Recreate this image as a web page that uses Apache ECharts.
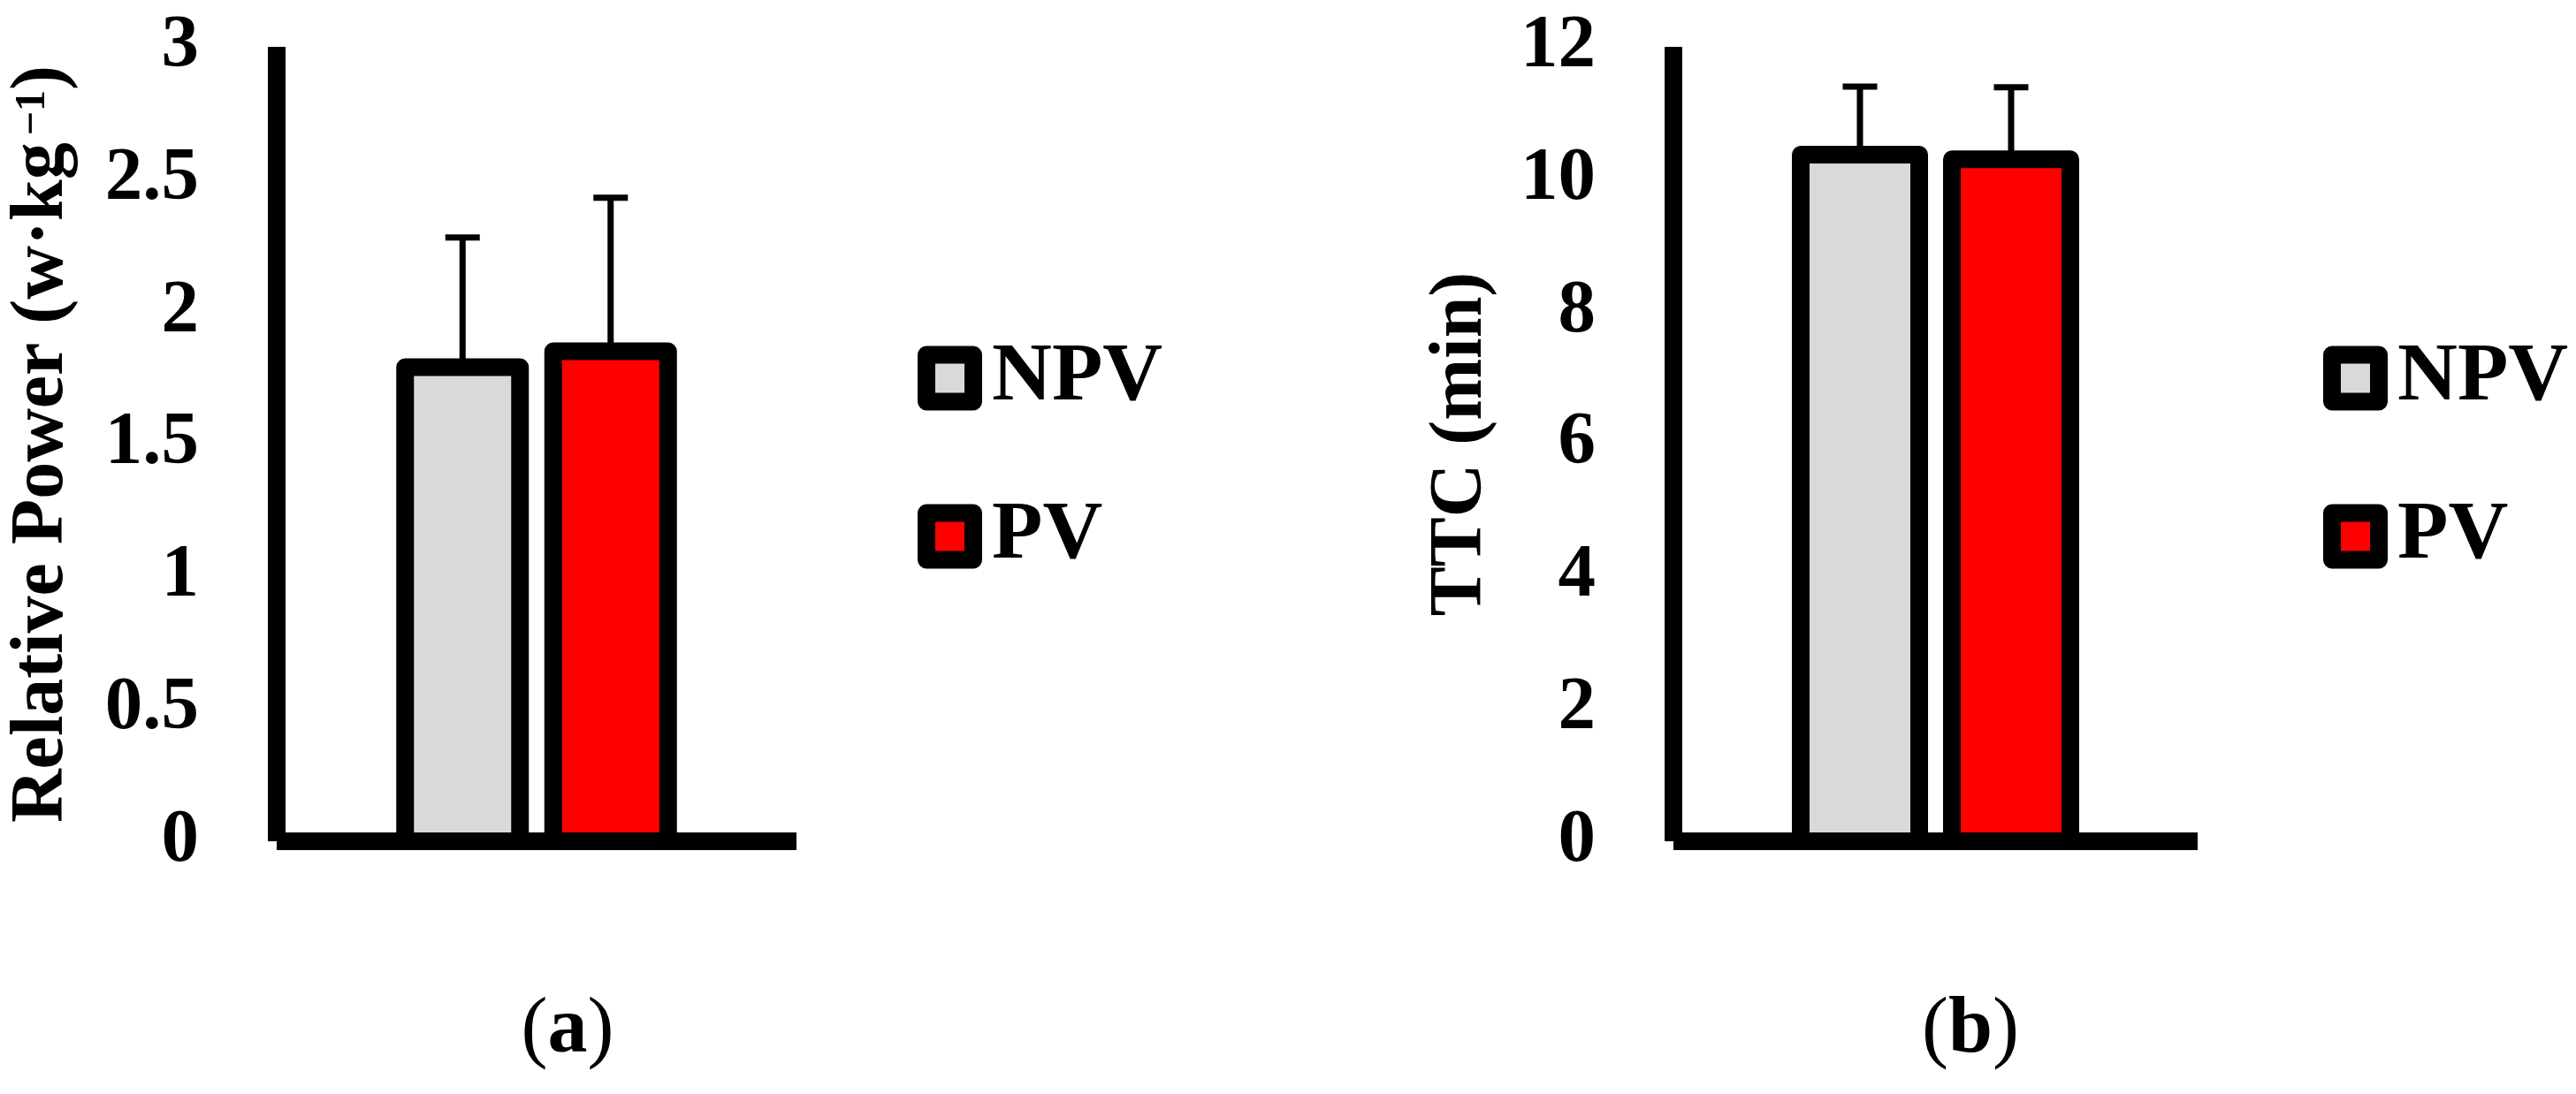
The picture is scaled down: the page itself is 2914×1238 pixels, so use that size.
<!DOCTYPE html>
<html><head><meta charset="utf-8">
<script src="https://cdn.jsdelivr.net/npm/echarts@6/dist/echarts.min.js"></script>
<style>html,body{margin:0;padding:0;background:#fff}#c{width:2914px;height:1238px}</style>
</head><body><div id="c"></div>
<script>
// ---- data ----
const categories = [''];
const seriesNames = ['NPV', 'PV'];
const powerMean = [1.79, 1.85];
const powerSD = [0.49, 0.58];
const ttcMean = [10.37, 10.30];
const ttcSD = [1.03, 1.09];
const powerAxis = { min: 0, max: 3, interval: 0.5 };
const ttcAxis = { min: 0, max: 12, interval: 2 };
const powerTitle = 'Relative Power (w·kg{sup|−1})';
const ttcTitle = 'TTC (min)';
const panelLabels = ['a', 'b'];
const fillColors = ['#D9D9D9', '#FF0000'];

// ---- style ----
const FF = 'Liberation Serif';
const barW = [130, 134];
const barOff = [83.75, 85.5];

const chart = echarts.init(document.getElementById('c'), null, { renderer: 'canvas' });

function barRender(offset, w, fill) {
  return function (params, api) {
    const top = api.coord([api.value(0), api.value(1)]);
    const base = api.coord([api.value(0), 0]);
    return {
      type: 'rect',
      shape: { x: top[0] + offset - w / 2, y: top[1], width: w, height: base[1] - top[1] },
      style: { fill: fill, stroke: '#000', lineWidth: 20, lineJoin: 'round' }
    };
  };
}
function errRender(offset) {
  return function (params, api) {
    const c = api.coord([api.value(0), api.value(1)]);
    const t = api.coord([api.value(0), api.value(2)]);
    const x = c[0] + offset;
    return {
      type: 'group', children: [
        { type: 'line', shape: { x1: x, y1: c[1], x2: x, y2: t[1] }, style: { stroke: '#000', lineWidth: 7 } },
        { type: 'line', shape: { x1: x - 19.5, y1: t[1], x2: x + 19.5, y2: t[1] }, style: { stroke: '#000', lineWidth: 7 } }
      ]
    };
  };
}

function yAxisDef(gi, ax, name, gap) {
  return {
    type: 'value', gridIndex: gi, min: ax.min, max: ax.max, interval: ax.interval,
    name: name, nameLocation: 'middle', nameGap: gap,
    nameTextStyle: {
      fontFamily: FF, fontWeight: 'bold', fontSize: 84, color: '#000',
      rich: { sup: { fontFamily: FF, fontWeight: 'bold', fontSize: 48, color: '#000', verticalAlign: 'top', padding: [8, 0, 0, 8] } }
    },
    axisLine: { show: true, lineStyle: { color: '#000', width: 20, cap: 'butt' } },
    axisTick: { show: false },
    splitLine: { show: false },
    axisLabel: { margin: 88, fontFamily: FF, fontWeight: 'bold', fontSize: 85, color: '#000' }
  };
}
function xAxisDef(gi) {
  return {
    type: 'category', gridIndex: gi, data: categories,
    axisLine: { show: true, onZero: true, lineStyle: { color: '#000', width: 20, cap: 'butt' } },
    axisTick: { show: false }, axisLabel: { show: false }, splitLine: { show: false }
  };
}
function legendDef(left) {
  return {
    orient: 'vertical', left: left, top: 375, padding: 0,
    itemWidth: 53, itemHeight: 53, itemGap: 73, icon: 'rect',
    data: seriesNames,
    itemStyle: { borderWidth: 20, borderColor: '#000', borderJoin: 'round' },
    textStyle: { fontFamily: FF, fontWeight: 'bold', fontSize: 94, color: '#000', lineHeight: 94, padding: [12, 0, 0, 16] }
  };
}

const panels = [
  { mean: powerMean, sd: powerSD },
  { mean: ttcMean, sd: ttcSD }
];
const series = [];
panels.forEach((p, gi) => {
  seriesNames.forEach((n, si) => {
    const off = si === 0 ? -barOff[gi] : barOff[gi];
    series.push({
      type: 'custom', name: n, xAxisIndex: gi, yAxisIndex: gi,
      renderItem: barRender(off, barW[gi], fillColors[si]),
      data: [[0, p.mean[si]]],
      encode: { x: 0, y: 1 },
      itemStyle: { color: fillColors[si], borderColor: '#000', borderWidth: 20 },
      z: 3, silent: true
    });
  });
  seriesNames.forEach((n, si) => {
    const off = si === 0 ? -barOff[gi] : barOff[gi];
    series.push({
      type: 'custom', name: n, xAxisIndex: gi, yAxisIndex: gi,
      renderItem: errRender(off),
      data: [[0, p.mean[si], p.mean[si] + p.sd[si]]],
      encode: { x: 0, y: [1, 2] },
      itemStyle: { color: fillColors[si] },
      z: 2, silent: true
    });
  });
});

function capTitle(txt, x) {
  return {
    text: '{p|(}{b|' + txt + '}{p|)}', left: x, top: 1122, textAlign: 'center', padding: 0,
    textStyle: {
      rich: {
        p: { fontFamily: FF, fontSize: 90, fontWeight: 'normal', color: '#000' },
        b: { fontFamily: FF, fontSize: 90, fontWeight: 'bold', color: '#000' }
      }
    }
  };
}

chart.setOption({
  animation: false,
  backgroundColor: '#fff',
  title: [capTitle(panelLabels[0], 642), capTitle(panelLabels[1], 2229)],
  legend: [legendDef(1038), legendDef(2628)],
  grid: [
    { left: 313, top: 53, width: 588, height: 899, containLabel: false, outerBoundsMode: 'none' },
    { left: 1893, top: 53, width: 593, height: 899, containLabel: false, outerBoundsMode: 'none' }
  ],
  xAxis: [xAxisDef(0), xAxisDef(1)],
  yAxis: [yAxisDef(0, powerAxis, powerTitle, 223), yAxisDef(1, ttcAxis, ttcTitle, 198)],
  series: series
});
</script>
</body></html>
